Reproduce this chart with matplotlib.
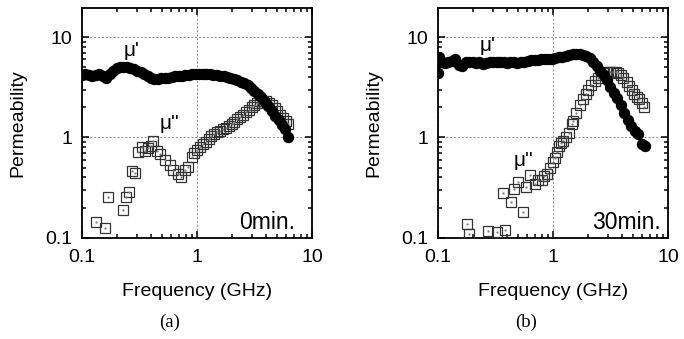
import matplotlib
matplotlib.use("Agg")
import matplotlib.pyplot as plt
from matplotlib.ticker import FixedLocator, FixedFormatter, LogLocator, NullFormatter

plt.rcParams['font.family'] = ['Liberation Sans', 'DejaVu Sans']

# ---------------- data: panel (a) 0 min ----------------
f_mu1_a = [0.1, 0.107, 0.115, 0.123, 0.132, 0.141, 0.151, 0.162, 0.174, 0.186,
           0.2, 0.214, 0.229, 0.245, 0.263, 0.282, 0.302, 0.324, 0.347, 0.372,
           0.398, 0.427, 0.457, 0.49, 0.525, 0.562, 0.603, 0.646, 0.692, 0.741,
           0.794, 0.851, 0.912, 0.977, 1.05, 1.12, 1.2, 1.29, 1.38, 1.48,
           1.58, 1.7, 1.82, 1.95, 2.09, 2.24, 2.4, 2.57, 2.75, 2.95,
           3.16, 3.39, 3.63, 3.89, 4.17, 4.47, 4.79, 5.13, 5.5, 5.8, 6.15]
mu1_a = [4.2, 4.3, 4.2, 4.1, 4.2, 4.3, 4.1, 3.95, 4.3, 4.6,
         4.9, 5.05, 5.0, 5.05, 4.9, 4.8, 4.6, 4.45, 4.3, 4.1,
         3.9, 3.8, 3.85, 3.9, 3.95, 3.95, 4.0, 4.05, 4.05, 4.1,
         4.15, 4.2, 4.25, 4.3, 4.3, 4.3, 4.25, 4.25, 4.2, 4.15,
         4.1, 4.05, 4.0, 3.95, 3.85, 3.75, 3.6, 3.45, 3.3, 3.1,
         2.9, 2.7, 2.5, 2.25, 2.05, 1.85, 1.65, 1.5, 1.33, 1.2, 1.0]

f_mu2_a = [0.132, 0.158, 0.167, 0.229, 0.241, 0.256, 0.274, 0.289, 0.309, 0.33,
           0.353, 0.377, 0.40, 0.417, 0.447, 0.477, 0.527, 0.58, 0.62, 0.69,
           0.73, 0.79, 0.84, 0.90, 0.95, 1.0, 1.06, 1.12, 1.19, 1.26,
           1.33, 1.41, 1.5, 1.58, 1.68, 1.78, 1.88, 2.0, 2.11, 2.24,
           2.37, 2.51, 2.66, 2.82, 2.99, 3.16, 3.35, 3.55, 3.76, 3.98,
           4.22, 4.47, 4.73, 5.01, 5.31, 5.62, 5.96, 6.2]
mu2_a = [0.145, 0.125, 0.253, 0.189, 0.253, 0.284, 0.46, 0.44, 0.71, 0.80,
         0.74, 0.78, 0.83, 0.93, 0.74, 0.69, 0.59, 0.525, 0.47, 0.43,
         0.40, 0.47, 0.505, 0.635, 0.70, 0.75, 0.80, 0.85, 0.91, 0.97,
         1.03, 1.08, 1.13, 1.17, 1.21, 1.25, 1.30, 1.37, 1.44, 1.52,
         1.6, 1.68, 1.78, 1.88, 2.0, 2.1, 2.22, 2.32, 2.33, 2.28,
         2.2, 2.08, 1.95, 1.82, 1.68, 1.55, 1.45, 1.37]

# ---------------- data: panel (b) 30 min ----------------
f_mu1_b = [0.1, 0.103, 0.107, 0.115, 0.123, 0.132, 0.141, 0.151, 0.162, 0.174,
           0.186, 0.2, 0.214, 0.229, 0.245, 0.263, 0.282, 0.302, 0.324, 0.347,
           0.372, 0.398, 0.427, 0.457, 0.49, 0.525, 0.562, 0.603, 0.646, 0.692,
           0.741, 0.794, 0.851, 0.912, 0.977, 1.05, 1.12, 1.2, 1.29, 1.38,
           1.48, 1.58, 1.7, 1.82, 1.95, 2.09, 2.24, 2.4, 2.57, 2.75,
           2.95, 3.16, 3.39, 3.63, 3.89, 4.17, 4.47, 4.79, 5.13, 5.5, 5.9, 6.3]
mu1_b = [4.4, 6.3, 5.6, 5.5, 5.7, 5.8, 6.1, 5.3, 5.1, 5.6,
         5.7, 5.6, 5.5, 5.6, 5.4, 5.5, 5.6, 5.7, 5.6, 5.65,
         5.6, 5.55, 5.6, 5.6, 5.5, 5.6, 5.7, 5.8, 5.85, 5.9,
         5.95, 6.0, 6.0, 6.05, 6.1, 6.2, 6.3, 6.4, 6.5, 6.6,
         6.75, 6.85, 6.85, 6.7, 6.5, 6.2, 5.7, 5.1, 4.6, 4.2,
         3.7, 3.2, 2.8, 2.45, 2.1, 1.75, 1.5, 1.3, 1.15, 1.07, 0.85, 0.82]

f_mu2_b = [0.178, 0.187, 0.27, 0.324, 0.383, 0.366, 0.43, 0.55, 0.46, 0.50,
           0.58, 0.63, 0.70, 0.74, 0.80, 0.84, 0.88, 0.95, 1.0, 1.04,
           1.08, 1.13, 1.18, 1.23, 1.3, 1.37, 1.45, 1.5, 1.6, 1.71,
           1.81, 1.92, 2.02, 2.16, 2.3, 2.45, 2.6, 2.76, 2.93, 3.1,
           3.3, 3.5, 3.7, 3.9, 4.1, 4.36, 4.6, 4.85, 5.1, 5.35,
           5.6, 5.9, 6.2]
mu2_b = [0.137, 0.109, 0.116, 0.114, 0.12, 0.277, 0.225, 0.179, 0.307, 0.357,
         0.318, 0.417, 0.344, 0.372, 0.38, 0.41, 0.43, 0.50, 0.57, 0.63,
         0.72, 0.82, 0.88, 0.92, 1.0, 1.1, 1.35, 1.45, 1.75, 2.1,
         2.4, 2.7, 2.95, 3.3, 3.65, 3.95, 4.15, 4.35, 4.45, 4.5,
         4.5, 4.45, 4.35, 4.15, 3.9, 3.6, 3.25, 2.95, 2.7, 2.55,
         2.4, 2.2, 2.0]

panels = [
    dict(f1=f_mu1_a, m1=mu1_a, f2=f_mu2_a, m2=mu2_a, tag="0min.", cap="(a)",
         l1=(0.27, 7.4), l2=(0.58, 1.38), tag_x=0.926),
    dict(f1=f_mu1_b, m1=mu1_b, f2=f_mu2_b, m2=mu2_b, tag="30min.", cap="(b)",
         l1=(0.27, 8.3), l2=(0.55, 0.59), tag_x=0.97),
]

W, H = 684, 339
fig = plt.figure(figsize=(W / 100, H / 100), dpi=100)

lefts = [82, 438]
ax_w, ax_top, ax_bot = 230, 8, 237.7

for left, p in zip(lefts, panels):
    ax = fig.add_axes([left / W, 1 - ax_bot / H, ax_w / W, (ax_bot - ax_top) / H])
    ax.set_xscale('log')
    ax.set_yscale('log')
    ax.set_xlim(0.1, 10)
    ax.set_ylim(0.1, 19.5)

    # mu'' open squares
    ax.plot(p['f2'], p['m2'], linestyle='none', marker='s', markersize=7.5,
            markerfacecolor='none', markeredgecolor='#333333', markeredgewidth=0.9, zorder=3)
    ax.plot(p['f2'], p['m2'], linestyle='none', marker='.', markersize=1.2,
            color='#777777', zorder=3)
    # mu' filled circles
    ax.plot(p['f1'], p['m1'], linestyle='none', marker='o', markersize=7.2,
            markerfacecolor='black', markeredgecolor='black', zorder=4)

    ax.xaxis.set_major_locator(FixedLocator([0.1, 1, 10]))
    ax.xaxis.set_major_formatter(FixedFormatter(['0.1', '1', '10']))
    ax.yaxis.set_major_locator(FixedLocator([0.1, 1, 10]))
    ax.yaxis.set_major_formatter(FixedFormatter(['0.1', '1', '10']))
    ax.xaxis.set_minor_locator(LogLocator(base=10, subs=range(2, 10)))
    ax.yaxis.set_minor_locator(LogLocator(base=10, subs=range(2, 10)))
    ax.xaxis.set_minor_formatter(NullFormatter())
    ax.yaxis.set_minor_formatter(NullFormatter())

    ax.tick_params(which='both', direction='in', top=True, right=True,
                   labelsize=14, width=1.1)
    ax.tick_params(which='major', length=5)
    ax.tick_params(which='minor', length=3)
    ax.tick_params(axis='x', which='major', pad=8)
    ax.tick_params(axis='y', which='major', pad=7)
    ax.grid(True, which='major', linestyle=(0, (2, 2)), color='#888888', linewidth=0.7)
    for s in ax.spines.values():
        s.set_linewidth(1.3)

    ax.set_xlabel('Frequency (GHz)', fontsize=14)
    ax.set_ylabel('Permeability', fontsize=14)
    ax.xaxis.set_label_coords(0.5, -0.197)
    ax.yaxis.set_label_coords(-0.243, 0.5)

    ax.text(p['l1'][0], p['l1'][1], "μ'", fontsize=15, ha='center', va='center', zorder=5)
    ax.text(p['l2'][0], p['l2'][1], "μ''", fontsize=15, ha='center', va='center', zorder=5)
    ax.text(p['tag_x'], 0.038, p['tag'], transform=ax.transAxes, fontsize=16.5,
            ha='right', va='baseline', zorder=5)

    cap_x = (left + ax_w / 2 - 27) / W
    fig.text(cap_x, 1 - 322 / H, p['cap'], fontsize=13.5, ha='center', va='center',
             family=['Liberation Serif', 'DejaVu Serif'])

fig.savefig('out.png', dpi=100)
